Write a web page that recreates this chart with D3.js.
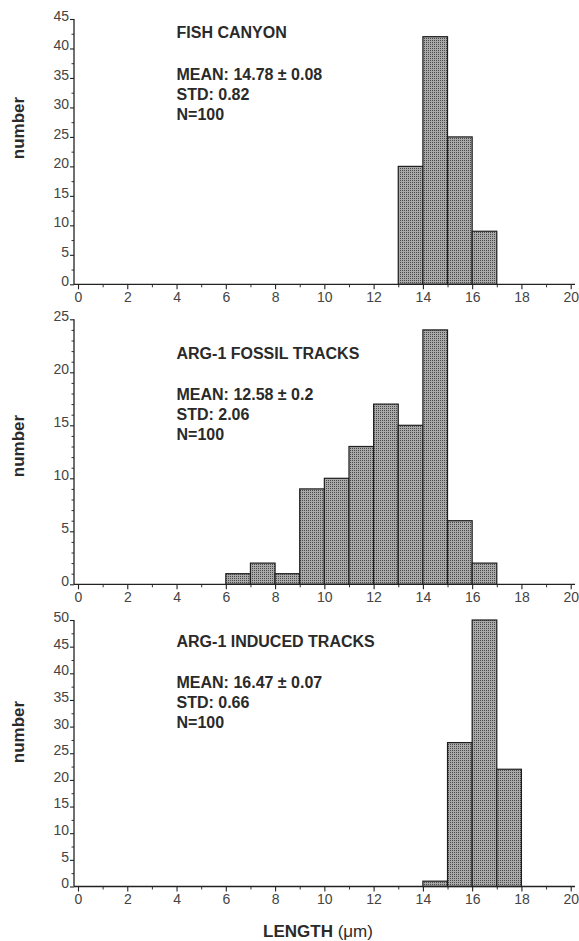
<!DOCTYPE html>
<html>
<head>
<meta charset="utf-8">
<script src="https://cdn.jsdelivr.net/npm/d3@7"></script>
<style>
  html, body { margin: 0; padding: 0; background: #fff; }
  svg { display: block; }
  .tick text { font-family: "Liberation Sans", Arial, Helvetica, sans-serif; font-size: 14px; fill: #444; }
  .bold { font-family: "Liberation Sans", Arial, Helvetica, sans-serif; font-weight: bold; font-size: 16px; fill: #2a2a2a; }
  .axlabel { font-size: 17px; }
</style>
</head>
<body>
<svg id="chart" width="579" height="941"></svg>
<script>
// ---------------- DATA ----------------
const binEdges = [0,1,2,3,4,5,6,7,8,9,10,11,12,13,14,15,16,17,18,19,20];
const fishCanyonCounts = [0,0,0,0,0,0,0,0,0,0,0,0,0,20,42,25,9,0,0,0];
const fossilCounts     = [0,0,0,0,0,0,1,2,1,9,10,13,17,15,24,6,2,0,0,0];
const inducedCounts    = [0,0,0,0,0,0,0,0,0,0,0,0,0,0,1,27,50,22,0,0];
const panelTitles = ["FISH CANYON", "ARG-1 FOSSIL TRACKS", "ARG-1 INDUCED TRACKS"];
const panelStats = [
  ["MEAN: 14.78 \u00B1 0.08", "STD: 0.82", "N=100"],
  ["MEAN: 12.58 \u00B1 0.2",  "STD: 2.06", "N=100"],
  ["MEAN: 16.47 \u00B1 0.07", "STD: 0.66", "N=100"]
];
const yMaxValues = [45, 25, 50];
const yMajorStep = [5, 5, 5];
const yMinorStep = [2.5, 1, 2.5];
const xTickLabels = [0,2,4,6,8,10,12,14,16,18,20];
const xMinorTicks = [1,3,5,7,9,11,13,15,17,19];
const yAxisLabel = "number";
const xAxisLabel = "LENGTH ";
const xAxisUnit = "(\u03BCm)";

// ---------------- LAYOUT ----------------
const axisX = 74, axisRight = 575;
const layout = [
  { top: 19,    bottom: 284.3, titleY: 38.3,  statsY: 80,    labelY: 128 },
  { top: 319.3, bottom: 584.3, titleY: 359.3, statsY: 400,   labelY: 446 },
  { top: 620,   bottom: 886.5, titleY: 646.7, statsY: 687.5, labelY: 732 }
];
const textX = 176.5, lineGap = 20;

const svg = d3.select("#chart");
const defs = svg.append("defs");
const pat = defs.append("pattern").attr("id", "stipple")
  .attr("patternUnits", "userSpaceOnUse").attr("width", 2).attr("height", 2);
pat.append("rect").attr("width", 2).attr("height", 2).attr("fill", "#a9a9a9").attr("shape-rendering", "crispEdges");
pat.append("rect").attr("x", 0).attr("y", 0).attr("width", 1).attr("height", 1).attr("fill", "#4a4a4a").attr("shape-rendering", "crispEdges");

const x = d3.scaleLinear().domain([binEdges[0], binEdges[binEdges.length - 1]]).range([78, 570.7]);
const allCounts = [fishCanyonCounts, fossilCounts, inducedCounts];

allCounts.forEach((counts, p) => {
  const L = layout[p];
  const y = d3.scaleLinear().domain([0, yMaxValues[p]]).range([L.bottom, L.top]);
  const g = svg.append("g");

  // bars
  const bars = counts.map((c, i) => ({ x0: binEdges[i], x1: binEdges[i + 1], c })).filter(d => d.c > 0);
  g.selectAll("rect.bar").data(bars).join("rect").attr("class", "bar")
    .attr("x", d => x(d.x0))
    .attr("y", d => y(d.c))
    .attr("width", d => x(d.x1) - x(d.x0))
    .attr("height", d => y(0) - y(d.c))
    .attr("fill", "url(#stipple)")
    .attr("stroke", "#1e1e1e")
    .attr("stroke-width", 1.2);

  // y axis
  const major = d3.range(0, yMaxValues[p] + 0.001, yMajorStep[p]);
  const minor = d3.range(0, yMaxValues[p] + 0.001, yMinorStep[p]).filter(v => major.indexOf(v) < 0);
  const yAx = g.append("g").attr("transform", `translate(${axisX},0)`)
    .call(d3.axisLeft(y).tickValues(major).tickSize(4).tickPadding(1).tickSizeOuter(0).tickFormat(d3.format("d")));
  yAx.select(".domain").remove();
  yAx.selectAll(".tick line").attr("stroke", "#222").attr("stroke-width", 1.1);
  yAx.selectAll(".tick text").attr("dy", "0.1em");
  const yMin = g.append("g").attr("transform", `translate(${axisX},0)`)
    .call(d3.axisLeft(y).tickValues(minor).tickSize(2.5).tickFormat(""));
  yMin.select(".domain").remove();
  yMin.selectAll(".tick line").attr("stroke", "#333").attr("stroke-width", 1);

  // x axis
  const xAx = g.append("g").attr("transform", `translate(0,${L.bottom})`)
    .call(d3.axisBottom(x).tickValues(xTickLabels).tickSize(5).tickPadding(3).tickSizeOuter(0).tickFormat(d3.format("d")));
  xAx.select(".domain").remove();
  xAx.selectAll(".tick line").attr("stroke", "#222").attr("stroke-width", 1.1);
  const xMin = g.append("g").attr("transform", `translate(0,${L.bottom})`)
    .call(d3.axisBottom(x).tickValues(xMinorTicks).tickSize(3).tickFormat(""));
  xMin.select(".domain").remove();
  xMin.selectAll(".tick line").attr("stroke", "#333").attr("stroke-width", 1);

  // axis lines
  g.append("line").attr("x1", axisX).attr("x2", axisX).attr("y1", L.top).attr("y2", L.bottom)
    .attr("stroke", "#222").attr("stroke-width", 1.3);
  g.append("line").attr("x1", axisX).attr("x2", axisRight).attr("y1", L.bottom).attr("y2", L.bottom)
    .attr("stroke", "#222").attr("stroke-width", 1.3);

  // texts
  g.append("text").attr("class", "bold").attr("x", textX).attr("y", L.titleY).text(panelTitles[p]);
  panelStats[p].forEach((s, k) => {
    g.append("text").attr("class", "bold").attr("x", textX).attr("y", L.statsY + k * lineGap).text(s);
  });
  g.append("text").attr("class", "bold axlabel")
    .attr("transform", `translate(18,${L.labelY}) rotate(-90)`)
    .attr("text-anchor", "middle").attr("dominant-baseline", "central")
    .text(yAxisLabel);
});

const xl = svg.append("text").attr("class", "bold axlabel").attr("x", 318).attr("y", 937).attr("text-anchor", "middle");
xl.append("tspan").text(xAxisLabel);
xl.append("tspan").attr("font-weight", "normal").text(xAxisUnit);
</script>
</body>
</html>
